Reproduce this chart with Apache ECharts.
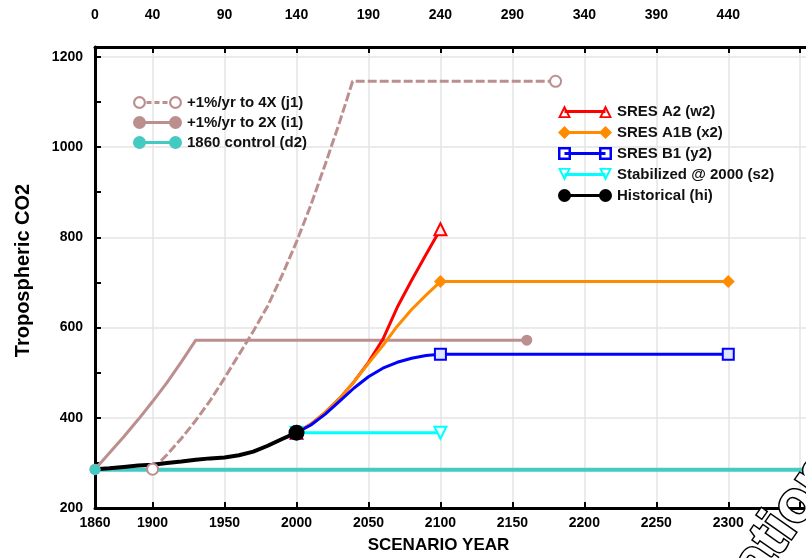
<!DOCTYPE html>
<html>
<head>
<meta charset="utf-8">
<title>Tropospheric CO2 scenarios</title>
<script src="https://cdn.jsdelivr.net/npm/echarts/dist/echarts.min.js"></script>
<style>
  html, body { margin: 0; padding: 0; background: #fff; }
  #chart { width: 806px; height: 558px; }
</style>
</head>
<body>
<div id="chart"></div>
<script>
// axis ticks and labels
const yearLabels = [1860, 1900, 1950, 2000, 2050, 2100, 2150, 2200, 2250, 2300]
const yearTicks = [1900, 1950, 2000, 2050, 2100, 2150, 2200, 2250, 2300, 2350]
const topLabels = ['0', '40', '90', '140', '190', '240', '290', '340', '390', '440']
const co2Labels = [200, 400, 600, 800, 1000, 1200]

// +1%/yr to 4X (j1)
const j1Years = [1900, 1910, 1920, 1930, 1940, 1950, 1960, 1970, 1980, 1990, 2000, 2010, 2020, 2030, 2039, 2180]
const j1Values = [286, 318, 354, 394, 438, 488, 540, 592, 648, 716, 790, 872, 962, 1056, 1146, 1146]
// +1%/yr to 2X (i1)
const i1Years = [1860, 1870, 1880, 1890, 1900, 1910, 1920, 1930, 2160]
const i1Values = [286, 322, 358, 396, 436, 478, 524, 572, 572]
// 1860 control (d2)
const d2Years = [1860, 2360]
const d2Values = [285, 285]
// SRES A2 (w2), A1B (x2), B1 (y2)
const sresYears = [2000, 2010, 2020, 2030, 2040, 2050, 2060, 2070, 2080, 2090, 2100]
const w2Values = [367, 386, 412, 443, 480, 523, 574, 645, 705, 762, 818]
const x2Years = [2000, 2010, 2020, 2030, 2040, 2050, 2060, 2070, 2080, 2090, 2100, 2300]
const x2Values = [367, 386, 412, 443, 480, 521, 560, 603, 640, 672, 702, 702]
const y2Years = [2000, 2010, 2020, 2030, 2040, 2050, 2060, 2070, 2080, 2090, 2100, 2300]
const y2Values = [367, 384, 408, 437, 466, 491, 510, 523, 532, 538, 541, 541]
// Stabilized @ 2000 (s2)
const s2Years = [2000, 2100]
const s2Values = [367, 367]
// Historical (hi)
const hiYears = [1860, 1870, 1880, 1890, 1900, 1910, 1920, 1930, 1940, 1950, 1960, 1970, 1980, 1990, 2000]
const hiValues = [286, 288, 291, 294, 296, 300, 303, 307, 310, 312, 317, 325, 338, 353, 367]

const font = 'Liberation Sans'
const rosy = '#bc8f8f'
const teal = '#45c9c3'

const pairs = (xs, ys) => xs.map((x, i) => [x, ys[i]])
// only draw a marker on the listed years
const markAt = (years, sym) => value => (years.indexOf(value[0]) >= 0 ? sym : 'none')

// legend icon: a line with a marker on both ends
const markerPath = (shape, c) => {
  const r = 6.5
  if (shape === 'circle') {
    return `M${c - r},6.5 A${r},${r} 0 1,1 ${c + r},6.5 A${r},${r} 0 1,1 ${c - r},6.5 Z `
  }
  if (shape === 'ring') {
    const q = r - 2.2
    return `M${c - r},6.5 A${r},${r} 0 1,1 ${c + r},6.5 A${r},${r} 0 1,1 ${c - r},6.5 Z ` +
      `M${c - q},6.5 A${q},${q} 0 1,0 ${c + q},6.5 A${q},${q} 0 1,0 ${c - q},6.5 Z `
  }
  if (shape === 'triangle') {
    return `M${c - r},13 L${c},0 L${c + r},13 Z M${c - r + 3},11.2 L${c + r - 3},11.2 L${c},4.5 Z `
  }
  if (shape === 'tridown') {
    return `M${c - r},0 L${c + r},0 L${c},13 Z M${c - r + 3},1.8 L${c},8.5 L${c + r - 3},1.8 Z `
  }
  if (shape === 'square') {
    return `M${c - r},0 L${c + r},0 L${c + r},13 L${c - r},13 Z M${c - r + 2.5},2.5 L${c - r + 2.5},10.5 L${c + r - 2.5},10.5 L${c + r - 2.5},2.5 Z `
  }
  // diamond
  return `M${c},0 L${c + r},6.5 L${c},13 L${c - r},6.5 Z `
}
const legendIcon = (shape, w, dashed) => {
  const a = 6.5
  const b = w - 6.5
  let p = ''
  if (dashed) {
    for (let x = a + 7; x + 5 < b - 6; x += 8) p += `M${x},5 L${x + 5},5 L${x + 5},8 L${x},8 Z `
  } else {
    p += `M${a},5 L${b},5 L${b},8 L${a},8 Z `
  }
  p += markerPath(shape, a) + markerPath(shape, b)
  return 'path://' + p
}
const legendText = {
  fontFamily: font,
  fontWeight: 'bold',
  fontSize: 15,
  color: '#111',
  lineHeight: 15
}
const tickText = {
  color: '#000',
  fontFamily: font,
  fontWeight: 'bold',
  fontSize: 14
}

const chart = echarts.init(document.getElementById('chart'))

const xAxisBase = {
  type: 'value',
  min: 1860,
  max: 2354,
  axisLine: { show: true, onZero: false, lineStyle: { color: '#000', width: 3 } },
  axisTick: { show: true, inside: true, length: 6, customValues: yearTicks, lineStyle: { color: '#000', width: 2 } }
}

const option = {
  animation: false,
  backgroundColor: '#fff',
  grid: {
    left: 95,
    right: 0,
    top: 47,
    bottom: 50,
    containLabel: false,
    outerBoundsMode: 'none'
  },
  legend: [
    {
      left: 133,
      top: 95,
      padding: 0,
      orient: 'vertical',
      itemWidth: 49,
      itemHeight: 13,
      itemGap: 5,
      selectedMode: false,
      textStyle: legendText,
      data: [
        { name: '+1%/yr to 4X (j1)', icon: legendIcon('ring', 49, true), itemStyle: { color: rosy, borderWidth: 0 } },
        { name: '+1%/yr to 2X (i1)', icon: legendIcon('circle', 49), itemStyle: { color: rosy, borderWidth: 0 } },
        { name: '1860 control (d2)', icon: legendIcon('circle', 49), itemStyle: { color: teal, borderWidth: 0 } }
      ]
    },
    {
      left: 558,
      top: 104,
      padding: 0,
      orient: 'vertical',
      itemWidth: 54,
      itemHeight: 13,
      itemGap: 6,
      selectedMode: false,
      textStyle: legendText,
      data: [
        { name: 'SRES A2 (w2)', icon: legendIcon('triangle', 54), itemStyle: { color: '#ff0000', borderWidth: 0 } },
        { name: 'SRES A1B (x2)', icon: legendIcon('diamond', 54), itemStyle: { color: '#ff8c00', borderWidth: 0 } },
        { name: 'SRES B1 (y2)', icon: legendIcon('square', 54), itemStyle: { color: '#0000ff', borderWidth: 0 } },
        { name: 'Stabilized @ 2000 (s2)', icon: legendIcon('tridown', 54), itemStyle: { color: '#00ffff', borderWidth: 0 } },
        { name: 'Historical (hi)', icon: legendIcon('circle', 54), itemStyle: { color: '#000', borderWidth: 0 } }
      ]
    }
  ],
  xAxis: [
    Object.assign({}, xAxisBase, {
      position: 'bottom',
      axisLabel: Object.assign({}, tickText, {
        customValues: yearLabels,
        margin: 8,
        formatter: v => String(v)
      }),
      splitLine: { show: true, lineStyle: { color: '#e4e4e4', width: 1.5 } },
      name: 'SCENARIO YEAR',
      nameLocation: 'middle',
      nameGap: 29,
      nameMoveOverlap: false,
      nameTextStyle: {
        fontFamily: font,
        fontWeight: 'bold',
        fontSize: 17,
        color: '#000',
        padding: [0, 24, 0, 0]
      }
    }),
    Object.assign({}, xAxisBase, {
      position: 'top',
      axisLabel: Object.assign({}, tickText, {
        customValues: yearLabels,
        margin: 25,
        formatter: v => topLabels[yearLabels.indexOf(v)]
      }),
      splitLine: { show: false }
    })
  ],
  yAxis: {
    type: 'value',
    min: 200,
    max: 1222,
    interval: 200,
    axisLine: { show: true, onZero: false, lineStyle: { color: '#000', width: 3 } },
    axisTick: { show: true, inside: true, length: 6, lineStyle: { color: '#000', width: 2 } },
    minorTick: { show: true, splitNumber: 2, length: 6, lineStyle: { color: '#000', width: 2 } },
    axisLabel: Object.assign({}, tickText, {
      customValues: co2Labels,
      margin: 12,
      formatter: v => String(v)
    }),
    splitLine: { show: true, lineStyle: { color: '#e4e4e4', width: 1.5 } },
    name: 'Tropospheric CO2',
    nameLocation: 'middle',
    nameGap: 62,
    nameMoveOverlap: false,
    nameTextStyle: {
      fontFamily: font,
      fontWeight: 'bold',
      fontSize: 20,
      color: '#000',
      padding: [0, 0, 0, 14]
    }
  },
  // watermark cut off in the corner
  graphic: [
    {
      type: 'text',
      x: 770,
      y: 592,
      rotation: (55 * Math.PI) / 180,
      silent: true,
      z: 100,
      style: {
        text: 'ation',
        font: 'bold 58px Liberation Sans',
        fill: '#fff',
        stroke: '#000',
        lineWidth: 3,
        verticalAlign: 'bottom'
      }
    }
  ],
  series: [
    {
      name: '+1%/yr to 4X (j1)',
      type: 'line',
      data: pairs(j1Years, j1Values),
      symbol: markAt([1900, 2180], 'circle'),
      symbolSize: 11,
      itemStyle: { color: '#fff', borderColor: rosy, borderWidth: 2 },
      lineStyle: { color: rosy, width: 3, type: [9, 3] }
    },
    {
      name: '+1%/yr to 2X (i1)',
      type: 'line',
      data: pairs(i1Years, i1Values),
      symbol: markAt([1860, 2160], 'circle'),
      symbolSize: 11,
      itemStyle: { color: rosy },
      lineStyle: { color: rosy, width: 3 }
    },
    {
      name: '1860 control (d2)',
      type: 'line',
      data: pairs(d2Years, d2Values),
      symbol: 'circle',
      symbolSize: 11,
      itemStyle: { color: teal },
      lineStyle: { color: teal, width: 4 }
    },
    {
      name: 'SRES A2 (w2)',
      type: 'line',
      data: pairs(sresYears, w2Values),
      symbol: markAt([2000, 2100], 'triangle'),
      symbolSize: 12,
      itemStyle: { color: '#ffe8e8', borderColor: '#ff0000', borderWidth: 2 },
      lineStyle: { color: '#ff0000', width: 3 }
    },
    {
      name: 'SRES A1B (x2)',
      type: 'line',
      data: pairs(x2Years, x2Values),
      symbol: markAt([2000, 2100, 2300], 'diamond'),
      symbolSize: 13,
      itemStyle: { color: '#ff8c00' },
      lineStyle: { color: '#ff8c00', width: 3 }
    },
    {
      name: 'SRES B1 (y2)',
      type: 'line',
      data: pairs(y2Years, y2Values),
      symbol: markAt([2000, 2100, 2300], 'rect'),
      symbolSize: 11,
      itemStyle: { color: '#dfe4ff', borderColor: '#0000ff', borderWidth: 2 },
      lineStyle: { color: '#0000ff', width: 3 }
    },
    {
      name: 'Stabilized @ 2000 (s2)',
      type: 'line',
      data: pairs(s2Years, s2Values),
      symbol: markAt([2000, 2100], 'path://M0,0 L10,0 L5,10 Z'),
      symbolSize: 12,
      itemStyle: { color: '#e8ffff', borderColor: '#00ffff', borderWidth: 2 },
      lineStyle: { color: '#00ffff', width: 3 }
    },
    {
      name: 'Historical (hi)',
      type: 'line',
      data: pairs(hiYears, hiValues),
      symbol: markAt([2000], 'circle'),
      symbolSize: 16,
      itemStyle: { color: '#000' },
      lineStyle: { color: '#000', width: 4 }
    }
  ]
}

chart.setOption(option)
</script>
</body>
</html>
